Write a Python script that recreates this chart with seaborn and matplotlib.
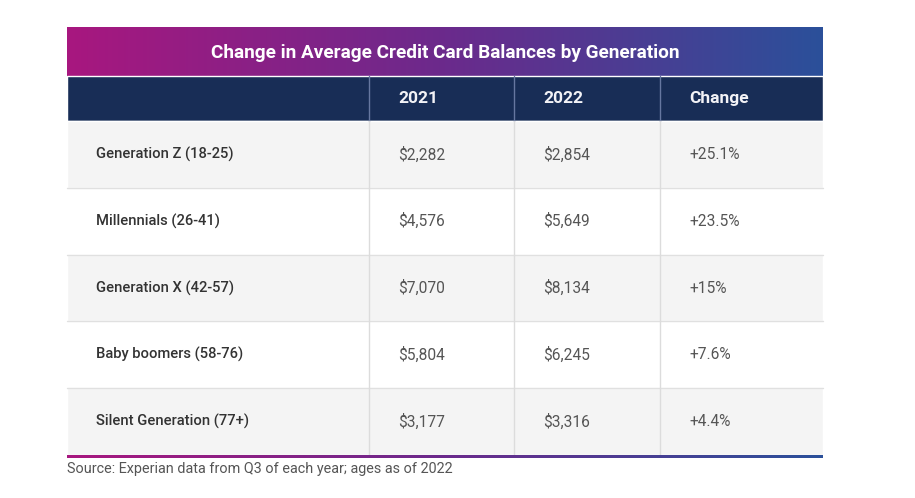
import matplotlib
matplotlib.use("Agg")
import matplotlib.pyplot as plt
from matplotlib.colors import LinearSegmentedColormap
import numpy as np
import seaborn as sns

# dati della tabella
generations = ["Generation Z (18-25)", "Millennials (26-41)", "Generation X (42-57)",
               "Baby boomers (58-76)", "Silent Generation (77+)"]
bal_2021 = [2282, 4576, 7070, 5804, 3177]
bal_2022 = [2854, 5649, 8134, 6245, 3316]
change_pct = [25.1, 23.5, 15, 7.6, 4.4]
headers = ["", "2021", "2022", "Change"]
title = "Change in Average Credit Card Balances by Generation"
source = "Source: Experian data from Q3 of each year; ages as of 2022"

sns.set_theme(style="white")
plt.rcParams['font.family'] = ['Roboto', 'DejaVu Sans']

W, H = 915, 498
fig = plt.figure(figsize=(W / 100, H / 100), dpi=100)
ax = fig.add_axes([0, 0, 1, 1])
ax.set_xlim(0, W)
ax.set_ylim(H, 0)
ax.axis("off")

# geometria (pixel)
col_edges = [67, 369, 514, 660, 823]
title_top, head_top, body_top = 27, 76, 121
row_h = 66.8
pad = 29
x0, x1 = col_edges[0], col_edges[-1]
n = len(generations)
body_bot = body_top + n * row_h

grad = LinearSegmentedColormap.from_list("grad", ["#a8177f", "#6b2a8c", "#2b509a"])
g = np.linspace(0, 1, 256).reshape(1, -1)

# barra del titolo con gradiente
ax.imshow(g, cmap=grad, aspect="auto", extent=[x0, x1, head_top, title_top], zorder=1)
ax.text((x0 + x1) / 2, (title_top + head_top) / 2 + 1, title, color="white",
        fontsize=13.7, fontweight="bold", ha="center", va="center", zorder=3)

# intestazione
ax.barh([(head_top + body_top) / 2], [x1 - x0], left=x0, height=body_top - head_top,
        color="#182d56", zorder=1)
for xe in col_edges[1:-1]:
    ax.plot([xe, xe], [head_top, body_top], color="#6677a0", lw=1, zorder=2)
for xe, h in zip(col_edges[:-1], headers):
    ax.text(xe + pad, (head_top + body_top) / 2, h, color="#f2f2f6", fontsize=12.5,
            fontweight="bold", ha="left", va="center", zorder=3)

# righe del corpo
centers = [body_top + (i + 0.5) * row_h for i in range(n)]
ax.barh(centers, [x1 - x0] * n, left=x0, height=row_h,
        color=["#f4f4f4" if i % 2 == 0 else "white" for i in range(n)], zorder=1)
for i in range(1, n):
    y = body_top + i * row_h
    ax.plot([x0, x1], [y, y], color="#e0e0e0", lw=1, zorder=2)
for xe in col_edges[1:-1]:
    ax.plot([xe, xe], [body_top, body_bot], color="#dcdcdc", lw=1, zorder=2)

for yc, lab, a, b, c in zip(centers, generations, bal_2021, bal_2022, change_pct):
    ax.text(col_edges[0] + pad, yc, lab, color="#333333", fontsize=10.6,
            fontweight="medium", ha="left", va="center", zorder=3)
    ax.text(col_edges[1] + pad, yc, f"${a:,}", color="#555555", fontsize=11.2,
            ha="left", va="center", zorder=3)
    ax.text(col_edges[2] + pad, yc, f"${b:,}", color="#555555", fontsize=11.2,
            ha="left", va="center", zorder=3)
    ax.text(col_edges[3] + pad, yc, f"+{c:g}%", color="#555555", fontsize=11.2,
            ha="left", va="center", zorder=3)

# linea inferiore con gradiente
ax.imshow(g, cmap=grad, aspect="auto", extent=[x0, x1, body_bot + 3, body_bot], zorder=2)

ax.text(x0, body_bot + 14, source, color="#555555", fontsize=10.4,
        ha="left", va="center", zorder=3)

fig.savefig("out.png", dpi=100)
